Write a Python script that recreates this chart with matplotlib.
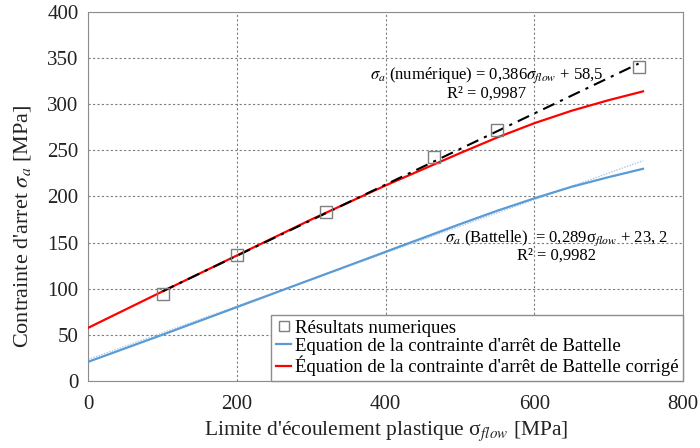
import matplotlib
matplotlib.use('Agg')
import matplotlib.pyplot as plt
import numpy as np

plt.rcParams['font.family'] = ['Liberation Serif', 'DejaVu Serif']
plt.rcParams['mathtext.fontset'] = 'stix'

# numerical results
flow_num = [100, 200, 320, 465, 550, 740]
arret_num = [94, 136, 183, 243, 272, 340]

# trendline of numerical results (from the annotation)
trend_slope, trend_intercept = 0.386, 58.5
trend_x = [100, 740]

# Battelle equation
flow_curve = [0, 100, 200, 300, 400, 500, 550, 600, 650, 700, 746]
arret_battelle = [20.6, 50, 80, 110, 140, 170, 184.5, 198, 210.5, 221, 230]
# corrected Battelle equation
arret_corrige = [57.5, 97, 136, 175, 212, 247, 264, 279.5, 293, 304.5, 314]

# Battelle trendline (from the annotation)
batt_slope, batt_intercept = 0.289, 23.2
batt_x = [0, 746]

fig = plt.figure(figsize=(7, 4.48), dpi=100)
ax = fig.add_axes([0.126, 0.15, 0.85, 0.823])

tx = np.array(trend_x)
bx = np.array(batt_x)
ax.plot(bx, batt_slope * bx + batt_intercept, color='#a9cbea', lw=1.0, ls=(0, (1, 1)), zorder=2)
l_blue, = ax.plot(flow_curve, arret_battelle, color='#5b9bd5', lw=1.6, zorder=3)
ax.plot(tx, trend_slope * tx + trend_intercept, color='black', lw=1.5, ls=(0, (6, 3, 1.5, 3)), zorder=4)
l_red, = ax.plot(flow_curve, arret_corrige, color='#ff0000', lw=1.6, zorder=3)
l_sq, = ax.plot(flow_num, arret_num, ls='none', marker='s', ms=9, mfc='none', mec='#7f7f7f', mew=1.0, zorder=5)

ax.set_xlim(0, 800)
ax.set_ylim(0, 400)
ax.set_xticks([0, 200, 400, 600, 800])
ax.set_yticks(range(0, 401, 50))
ax.tick_params(length=0, labelsize=15, colors='#222222')
ax.tick_params(axis='x', pad=10)
ax.tick_params(axis='y', pad=7)
ax.grid(True, color='#7f7f7f', lw=0.8, ls=(0, (2, 2)))
for s in ax.spines.values():
    s.set_color('#8c8c8c')

ax.set_xlabel(r"Limite d'écoulement plastique σ$_{flow}$ [MPa]", fontsize=15.5, color='#222222', labelpad=4)
ax.set_ylabel(r"Contrainte d'arret $\sigma_a$ [MPa]", fontsize=16, color='#222222')
ax.yaxis.set_label_coords(-0.092, 0.42)

ax.text(536, 332, r"$\sigma_a$ (numérique) = 0,386$\sigma_{flow}$ + 58,5", ha='center', va='center', fontsize=12)
ax.text(535, 311, "R² = 0,9987", ha='center', va='center', fontsize=12)
ax.text(630, 155, r"$\sigma_a$ (Battelle)  = 0,289σ$_{flow}$ + 23, 2", ha='center', va='center', fontsize=12)
ax.text(630, 136, "R² = 0,9982", ha='center', va='center', fontsize=12)

leg = ax.legend([l_sq, l_blue, l_red],
                ["Résultats numeriques",
                 "Equation de la contrainte d'arrêt de Battelle",
                 "Équation de la contrainte d'arrêt de Battelle corrigé"],
                loc='lower right', borderaxespad=0, fontsize=13.5, handlelength=0.8,
                handletextpad=0.2, labelspacing=0.05, borderpad=0.25, fancybox=False,
                framealpha=1, edgecolor='#8c8c8c')
leg.set_zorder(6)
leg.legend_handles[0].set_markersize(7)

fig.savefig('out.png', dpi=100)
plt.close()
